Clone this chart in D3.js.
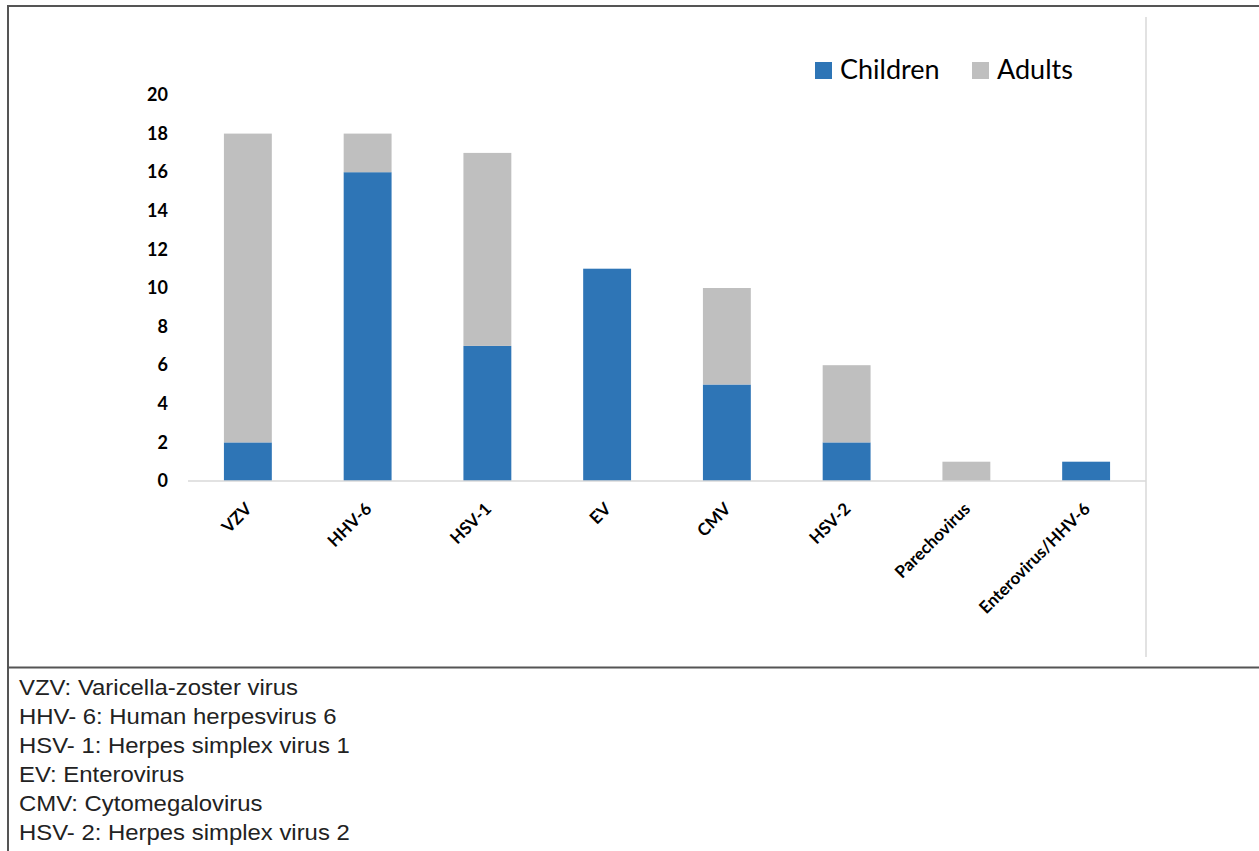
<!DOCTYPE html>
<html>
<head>
<meta charset="utf-8">
<script src="https://cdn.jsdelivr.net/npm/d3@7"></script>
<style>
  html, body { margin: 0; padding: 0; background: #fff; }
  svg { display: block; }
</style>
</head>
<body>
<svg id="chart" width="1259" height="851"></svg>
<script>
const categories = ["VZV", "HHV-6", "HSV-1", "EV", "CMV", "HSV-2", "Parechovirus", "Enterovirus/HHV-6"];
const children = [2, 16, 7, 11, 5, 2, 0, 1];
const adults = [16, 2, 10, 0, 5, 4, 1, 0];
const seriesNames = ["Children", "Adults"];
const seriesColors = ["#2E75B6", "#BFBFBF"];
const yTicks = [0, 2, 4, 6, 8, 10, 12, 14, 16, 18, 20];
const footnotes = [
  "VZV: Varicella-zoster virus",
  "HHV- 6: Human herpesvirus 6",
  "HSV- 1: Herpes simplex virus 1",
  "EV: Enterovirus",
  "CMV: Cytomegalovirus",
  "HSV- 2: Herpes simplex virus 2"
];

const svg = d3.select("#chart");
const chartFont = "Lato, 'Open Sans', sans-serif";

// frame lines
const frame = svg.append("g").attr("stroke", "#555").attr("stroke-width", 2);
frame.append("line").attr("x1", 8).attr("x2", 1259).attr("y1", 6).attr("y2", 6);
frame.append("line").attr("x1", 8).attr("x2", 8).attr("y1", 5).attr("y2", 851);
frame.append("line").attr("x1", 8).attr("x2", 1259).attr("y1", 667.5).attr("y2", 667.5);

// right light divider
svg.append("line").attr("x1", 1146).attr("x2", 1146).attr("y1", 17).attr("y2", 657)
  .attr("stroke", "#D9D9D9").attr("stroke-width", 1.5);

const x = d3.scaleBand().domain(categories).range([188, 1146]).paddingInner(0.6).paddingOuter(0.3);
const y = d3.scaleLinear().domain([0, 20]).range([481, 95]);

const table = categories.map((c, i) => ({ cat: c, Children: children[i], Adults: adults[i] }));
const stacked = d3.stack().keys(seriesNames)(table);

svg.append("g").selectAll("g").data(stacked).join("g")
  .attr("fill", (d, i) => seriesColors[i])
  .selectAll("rect").data(d => d).join("rect")
  .attr("x", d => x(d.data.cat))
  .attr("width", x.bandwidth())
  .attr("y", d => y(d[1]))
  .attr("height", d => y(d[0]) - y(d[1]));

// x axis line
svg.append("line").attr("x1", 188).attr("x2", 1146).attr("y1", y(0)).attr("y2", y(0))
  .attr("stroke", "#D9D9D9").attr("stroke-width", 1.5);

// y axis labels
const yAxis = svg.append("g").attr("transform", "translate(168,0)")
  .call(d3.axisLeft(y).tickValues(yTicks).tickSize(0).tickPadding(0));
yAxis.select(".domain").remove();
yAxis.selectAll("text")
  .attr("font-family", chartFont).attr("font-weight", "bold").attr("font-size", 18).attr("fill", "#000");

// x labels
const xAxis = svg.append("g").attr("transform", `translate(0,${y(0)})`)
  .call(d3.axisBottom(x).tickSize(0).tickPadding(0));
xAxis.select(".domain").remove();
xAxis.selectAll("text")
  .attr("font-family", chartFont).attr("font-weight", "bold").attr("font-size", 17).attr("fill", "#000")
  .attr("text-anchor", "end").attr("dy", 0).attr("y", 0)
  .attr("transform", "translate(5,29) rotate(-45)");

// legend
const legend = svg.append("g").attr("font-family", chartFont).attr("font-size", 27);
const legendX = [815, 972];
seriesNames.forEach((name, i) => {
  legend.append("rect").attr("x", legendX[i]).attr("y", 62).attr("width", 17).attr("height", 17)
    .attr("fill", seriesColors[i]);
  legend.append("text").attr("x", legendX[i] + 25).attr("y", 79).attr("fill", "#000").text(name);
});

// footnotes
const foot = svg.append("g").attr("font-family", "'Liberation Sans', Arial, sans-serif")
  .attr("font-size", 22).attr("fill", "#222")
  .attr("transform", "translate(19,0) scale(1.087,1)");
foot.selectAll("text").data(footnotes).join("text")
  .attr("x", 0).attr("y", (d, i) => 695 + i * 29)
  .text(d => d);
</script>
</body>
</html>
